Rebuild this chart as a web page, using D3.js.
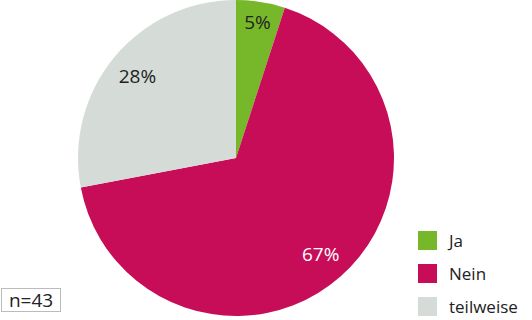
<!DOCTYPE html>
<html>
<head>
<meta charset="utf-8">
<script src="https://cdn.jsdelivr.net/npm/d3@7.9.0/dist/d3.min.js"></script>
<style>
  body { margin: 0; background: #fff; }
  svg { display: block; font-family: 'Open Sans', sans-serif; }
</style>
</head>
<body>
<svg width="532" height="320"></svg>
<script>
const categories = ['Ja', 'Nein', 'teilweise'];
const percents = [5, 67, 28];
const colorList = ['#77b82a', '#c70d58', '#d5dbd7'];
const sampleNote = 'n=43';

const svg = d3.select('svg');
const cx = 236, cy = 158, radius = 158;

const data = categories.map((c, i) => ({ label: c, value: percents[i] }));
const pie = d3.pie().sort(null).value(d => d.value);
const arcs = pie(data);
const arcGen = d3.arc().innerRadius(0).outerRadius(radius);
// small slices get their label pushed a bit further out
const labelArc = d => {
  const r = d.data.value < 10 ? 137 : 128;
  return d3.arc().innerRadius(r).outerRadius(r).centroid(d);
};
const colors = d3.scaleOrdinal(categories, colorList);

const g = svg.append('g').attr('transform', `translate(${cx},${cy})`);

g.selectAll('path')
  .data(arcs)
  .join('path')
  .attr('d', arcGen)
  .attr('fill', d => colors(d.data.label));

g.selectAll('text')
  .data(arcs)
  .join('text')
  .attr('transform', d => `translate(${labelArc(d)})`)
  .attr('text-anchor', 'middle')
  .attr('dy', '0.35em')
  .attr('font-size', 19)
  .attr('fill', d => d.data.label === 'Nein' ? '#fff' : '#222')
  .text(d => d.data.value + '%');

// legend
const legend = svg.append('g').attr('transform', 'translate(418,231)');
categories.forEach((c, i) => {
  const row = legend.append('g').attr('transform', `translate(0,${i * 33})`);
  row.append('rect').attr('width', 19).attr('height', 19).attr('fill', colors(c));
  row.append('text')
    .attr('x', 31).attr('y', 10).attr('dy', '0.35em')
    .attr('font-size', 17).attr('fill', '#222')
    .text(c);
});

// sample size box
const note = svg.append('g').attr('transform', 'translate(1.5,288.5)');
note.append('rect').attr('width', 59).attr('height', 23)
  .attr('fill', '#fff').attr('stroke', '#bbb');
note.append('text').attr('x', 29.5).attr('y', 11.5).attr('dy', '0.35em')
  .attr('text-anchor', 'middle').attr('font-size', 19).attr('fill', '#222')
  .text(sampleNote);
</script>
</body>
</html>
